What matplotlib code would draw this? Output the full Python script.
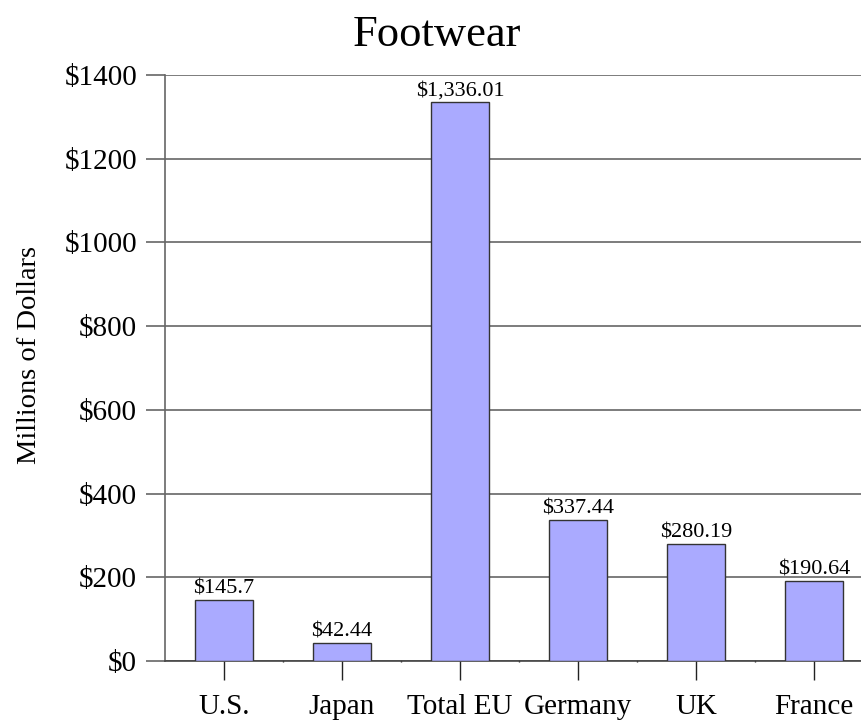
import matplotlib
matplotlib.use("Agg")
import matplotlib.pyplot as plt
from matplotlib.ticker import FixedLocator

categories = ["U.S.", "Japan", "Total EU", "Germany", "UK", "France"]
values = [145.7, 42.44, 1336.01, 337.44, 280.19, 190.64]
value_labels = ["$145.7", "$42.44", "$1,336.01", "$337.44", "$280.19", "$190.64"]
y_ticks = [0, 200, 400, 600, 800, 1000, 1200, 1400]
y_tick_labels = ["$0", "$200", "$400", "$600", "$800", "$1000", "$1200", "$1400"]
title = "Footwear"
ylabel = "Millions of Dollars"

plt.rcParams['font.family'] = ['Liberation Serif', 'DejaVu Serif']

W, H = 862, 725
fig = plt.figure(figsize=(W / 100, H / 100), dpi=100)
ax = fig.add_axes([165 / W, 1 - 661 / H, (W - 165) / W, (661 - 75) / H])

x = list(range(len(categories)))
bars = ax.bar(x, values, width=0.49, color="#AAAAFF", edgecolor="#333333", linewidth=1.0, zorder=3)

for b, lab in zip(bars, value_labels):
    ax.text(b.get_x() + b.get_width() / 2, b.get_height() + 4, lab,
            ha="center", va="bottom", fontsize=16, zorder=4)

ax.set_xlim(-0.5, 5.407)
ax.set_ylim(0, 1400)

ax.set_yticks(y_ticks)
ax.set_yticklabels(y_tick_labels, fontsize=21)
ax.set_xticks(x)
ax.set_xticklabels(categories, fontsize=21)
ax.xaxis.set_minor_locator(FixedLocator([i + 0.5 for i in range(len(categories) - 1)]))

ax.yaxis.grid(True, color="#666666", linewidth=1.2, zorder=0)
ax.tick_params(axis="y", which="major", length=14, width=1.2, color="#666666", pad=6)
ax.tick_params(axis="x", which="major", length=14, width=1.0, color="#222222", pad=10)
ax.tick_params(axis="x", which="minor", length=1.5, width=1.0, color="#222222", direction="inout")

for s in ["top", "right"]:
    ax.spines[s].set_visible(False)
ax.spines["left"].set_color("#666666")
ax.spines["left"].set_linewidth(1.2)
ax.spines["bottom"].set_color("#444444")
ax.spines["bottom"].set_linewidth(1.2)

fig.text(437 / W, 1 - 35 / H, title, ha="center", va="center", fontsize=32)
fig.text(30 / W, 1 - 355 / H, ylabel, ha="center", va="center", rotation=90, fontsize=20.5)

fig.savefig("out.png", dpi=100)
